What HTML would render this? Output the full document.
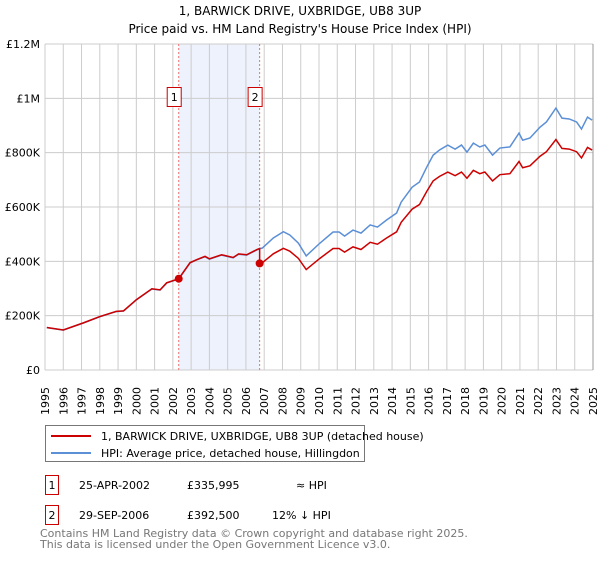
<!DOCTYPE html>
<html><head><meta charset="utf-8"><style>
body{margin:0;background:#fff;font-family:"Liberation Sans","DejaVu Sans",sans-serif;}
svg text{font-family:"DejaVu Sans","Liberation Sans",sans-serif;}
</style></head><body>
<svg id="c" width="600" height="560" xmlns="http://www.w3.org/2000/svg">
<text x="300" y="15" text-anchor="middle" font-size="12">1, BARWICK DRIVE, UXBRIDGE, UB8 3UP</text>
<text x="300" y="33" text-anchor="middle" font-size="12">Price paid vs. HM Land Registry's House Price Index (HPI)</text>
<g id="grid"></g><g id="marks"></g><g id="axes"></g>
<g>
<rect x="45.5" y="425.5" width="319" height="36" fill="#fff" stroke="#777"/>
<line x1="51" y1="436" x2="91" y2="436" stroke="#cc0000" stroke-width="2"/>
<text x="101" y="440" font-size="11">1, BARWICK DRIVE, UXBRIDGE, UB8 3UP (detached house)</text>
<line x1="51" y1="453" x2="91" y2="453" stroke="#5b8fd6" stroke-width="2"/>
<text x="101" y="457" font-size="11">HPI: Average price, detached house, Hillingdon</text>
</g>
<g font-size="11">
<rect x="45.5" y="475.5" width="13" height="19" fill="#fff" stroke="#cc0000"/><text x="52" y="489" text-anchor="middle">1</text>
<text x="79" y="489">25-APR-2002</text><text x="187" y="489">£335,995</text><text x="296" y="489">≈ HPI</text>
<rect x="45.5" y="505.5" width="13" height="19" fill="#fff" stroke="#cc0000"/><text x="52" y="519" text-anchor="middle">2</text>
<text x="79" y="519">29-SEP-2006</text><text x="187" y="519">£392,500</text><text x="272" y="519">12% ↓ HPI</text>
</g>
<text x="40" y="537" font-size="11" fill="#777">Contains HM Land Registry data © Crown copyright and database right 2025.</text>
<text x="40" y="548" font-size="11" fill="#777">This data is licensed under the Open Government Licence v3.0.</text>
</svg>
<script>
const years=[1995.1,1996.0,1997.1,1998.0,1998.9,1999.3,2000.0,2000.85,2001.3,2001.66,2002.32,2002.94,2003.3,2003.76,2004.0,2004.67,2005.3,2005.6,2006.04,2006.6,2006.75,2006.9,2007.5,2008.05,2008.4,2008.87,2009.3,2010.05,2010.77,2011.1,2011.4,2011.86,2012.3,2012.8,2013.2,2013.7,2014.25,2014.5,2015.1,2015.5,2015.9,2016.25,2016.6,2017.05,2017.45,2017.8,2018.1,2018.45,2018.8,2019.08,2019.5,2019.9,2020.45,2020.95,2021.15,2021.55,2022.1,2022.45,2022.97,2023.3,2023.7,2024.1,2024.37,2024.7,2024.95];
const hpi=[156,147,173,196,215,217,258,298,294,320,335,394,405,417,408,423,413,426,423,442,446,449,486,509,497,467,420,467,508,508,493,515,504,534,526,552,578,618,673,692,747,791,810,828,813,828,802,835,821,828,791,817,821,872,846,854,894,913,964,927,924,913,887,931,920];
const saleYears=[2002.32,2006.75];
const salePrices=[335.995,392.5];
const saleLabels=["1","2"];
const yTicks=[0,200,400,600,800,1000,1200];
const yTickLabels=["£0","£200K","£400K","£600K","£800K","£1M","£1.2M"];
const xTicks=[1995,1996,1997,1998,1999,2000,2001,2002,2003,2004,2005,2006,2007,2008,2009,2010,2011,2012,2013,2014,2015,2016,2017,2018,2019,2020,2021,2022,2023,2024,2025];
const NS="http://www.w3.org/2000/svg";
const X0=45,X1=593,Y0=370,Y1=44;
const sx=y=>X0+(y-1995)/30*(X1-X0);
const sy=v=>Y0-v/1200*(Y0-Y1);
function mk(p,t,a){const e=document.createElementNS(NS,t);for(const k in a)e.setAttribute(k,a[k]);p.appendChild(e);return e;}
const G=document.getElementById('grid'),M=document.getElementById('marks'),A=document.getElementById('axes');
const sh=mk(G,'rect',{x:sx(saleYears[0]),y:Y1,width:sx(saleYears[1])-sx(saleYears[0]),height:Y0-Y1,fill:'#eef2fc'});


xTicks.forEach(t=>{const l=mk(G,'line',{x1:sx(t),x2:sx(t),y1:Y1,y2:Y0,stroke:'#ccc'});


const tx=mk(A,'text',{transform:`translate(${sx(t)+4},${Y0+45}) rotate(-90)`,'font-size':11});tx.textContent=t;

});
yTicks.forEach((t,i)=>{const l=mk(G,'line',{x1:X0,x2:X1,y1:sy(t),y2:sy(t),stroke:'#ccc'});


const tx=mk(A,'text',{x:X0-5,y:sy(t)+4,'text-anchor':'end','font-size':11});tx.textContent=yTickLabels[i];

});
saleYears.forEach((s,i)=>{const l=mk(G,'line',{x1:sx(s),x2:sx(s),y1:Y1,y2:Y0,stroke:'#f07070','stroke-dasharray':'2,2'});

});
const hp=mk(M,'polyline',{points:years.map((y,i)=>sx(y)+','+sy(hpi[i])).join(' '),fill:'none',stroke:'#5b8fd6','stroke-width':1.5});


// property index: scale HPI by ratio at last sale
function hpiAt(y){for(let i=1;i<years.length;i++)if(years[i]>=y){const f=(y-years[i-1])/(years[i]-years[i-1]);return hpi[i-1]+f*(hpi[i]-hpi[i-1]);}return hpi[hpi.length-1];}
const r1=salePrices[0]/hpiAt(saleYears[0]),r2=salePrices[1]/hpiAt(saleYears[1]);
const pts=[];years.forEach((y,i)=>{if(y<saleYears[1])pts.push(sx(y)+','+sy(hpi[i]*(y<saleYears[0]?r1:r1)));else{if(pts.length&&!pts.done){pts.push(sx(saleYears[1])+','+sy(hpiAt(saleYears[1])*r1));pts.push(sx(saleYears[1])+','+sy(salePrices[1]));pts.done=1;}pts.push(sx(y)+','+sy(hpi[i]*r2));}});
const rp=mk(M,'polyline',{points:pts.join(' '),fill:'none',stroke:'#cc0000','stroke-width':1.5});


saleYears.forEach((s,i)=>{const c=mk(M,'circle',{cx:sx(s),cy:sy(salePrices[i]),r:4,fill:'#cc0000'});


const b=mk(M,'rect',{x:sx(s)-11.5,y:87.5,width:14,height:19,fill:'#fff',stroke:'#cc0000'});


const t=mk(M,'text',{x:sx(s)-4.5,y:101,'text-anchor':'middle','font-size':11});t.textContent=saleLabels[i];

});
mk(A,'line',{x1:X1,x2:X1,y1:Y1,y2:Y0,stroke:'#999'});
</script>
</body></html>
